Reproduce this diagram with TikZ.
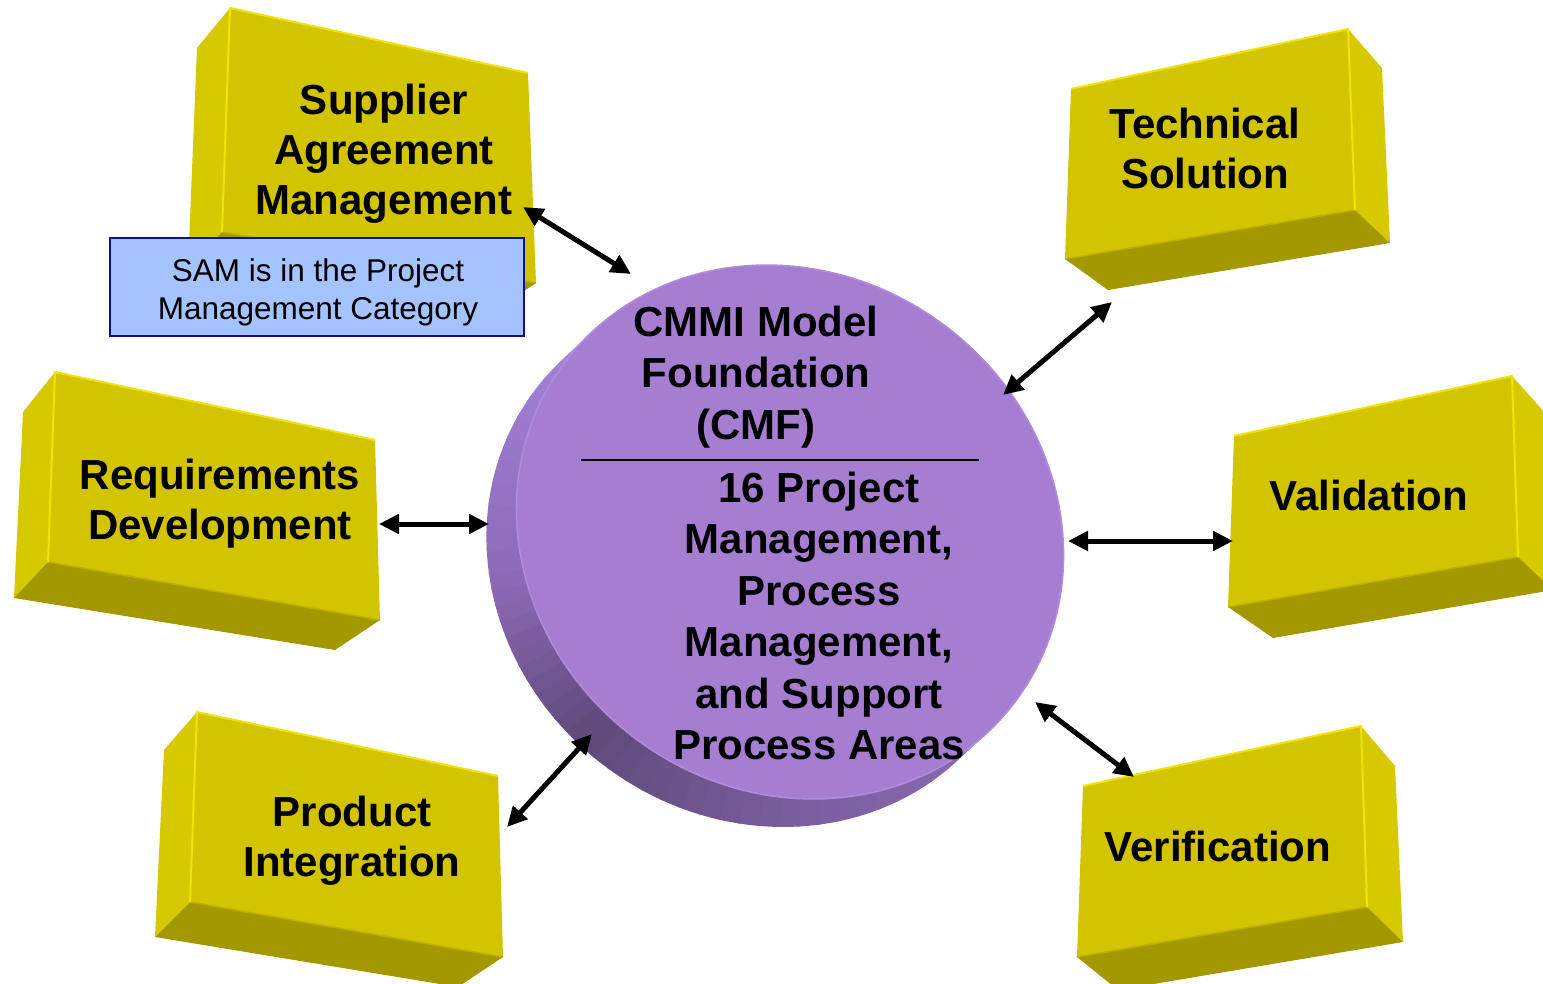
\documentclass[tikz,border=0pt]{standalone}
\usepackage{fontspec}
\setmainfont{Liberation Sans}
\usetikzlibrary{arrows.meta,calc}
\definecolor{yfront}{HTML}{D3C400}
\definecolor{yside}{HTML}{D7C900}
\definecolor{ybot}{HTML}{A49800}
\definecolor{yhi}{HTML}{F0E400}
\definecolor{yedge}{HTML}{BDB000}
\definecolor{discfront}{HTML}{A67ED1}
\definecolor{discrim}{HTML}{B08BE0}
\definecolor{sdA}{HTML}{8C6CB4}
\definecolor{sdB}{HTML}{7A5E9E}
\definecolor{sdC}{HTML}{5F4A7A}
\definecolor{sdD}{HTML}{8E6BB8}
\definecolor{sdE}{HTML}{A585DE}
\definecolor{sdF}{HTML}{A888E2}
\definecolor{notefill}{HTML}{A4C3FF}
\definecolor{noteline}{HTML}{10108A}
% left-facing block: A B C D (front), A' D' C' (back)
\newcommand\yblockL[7]{%
  \fill[yside] #1 -- #5 -- #6 -- #4 -- cycle;
  \fill[ybot] #4 -- #6 -- #7 -- #3 -- cycle;
  \fill[yfront] #1 -- #2 -- #3 -- #4 -- cycle;
  \draw[yedge, line width=1.5pt] #4 -- #3;
  \draw[yhi, line width=2pt, line join=round] #4 -- #1 -- #2;
}
% right-facing block: A B C D (front), B' C' D' (back)
\newcommand\yblockR[7]{%
  \fill[yside] #2 -- #5 -- #6 -- #3 -- cycle;
  \fill[ybot] #4 -- #7 -- #6 -- #3 -- cycle;
  \fill[yfront] #1 -- #2 -- #3 -- #4 -- cycle;
  \draw[yedge, line width=1.5pt] #4 -- #3;
  \draw[yhi, line width=2pt, line join=round] #1 -- #2 -- #3;
}
\tikzset{
  lbl/.style={font=\bfseries\fontsize{42}{50}\selectfont, align=center, inner sep=0pt},
  cmf/.style={font=\bfseries\fontsize{42}{51.4}\selectfont, align=center, inner sep=0pt},
  notebox/.style={draw=noteline, fill=notefill, line width=1.8pt, minimum width=414pt,
    minimum height=98pt, inner sep=0pt},
  notetext/.style={align=center, inner sep=0pt, font=\fontsize{31.5}{38}\selectfont},
  conn/.style={{Triangle[length=20pt,width=19pt]}-{Triangle[length=20pt,width=19pt]}, line width=5pt, black}
}
\begin{document}
\begin{tikzpicture}[x=1pt,y=-1pt]
\fill[white] (0,0) rectangle (1543,984);
\useasboundingbox (0,0) rectangle (1543,984);
\begin{scope}
\clip (0,0) rectangle (1543,984);
% blocks
\yblockL{(230,8)}{(528,73)}{(536,283)}{(222,232)}{(197,48)}{(188,268)}{(491,313)}
\yblockL{(55,372)}{(375,440)}{(380,620)}{(48,562)}{(23,412)}{(14,598)}{(335,650)}
\yblockL{(197,712)}{(498,776)}{(503,957)}{(190,902)}{(164,750)}{(155,937)}{(458,987)}
\yblockR{(1071,89)}{(1348,29)}{(1355,210)}{(1065,259)}{(1382,68)}{(1390,243)}{(1108,290)}
\yblockR{(1234,436)}{(1512,376)}{(1518,557)}{(1228,607)}{(1546,414)}{(1553,590)}{(1273,638)}
\yblockR{(1083,786)}{(1361,726)}{(1367,907)}{(1077,957)}{(1395,766)}{(1403,942)}{(1118,990)}
% disc
\begin{scope}[shift={(790,532)},rotate=-37]
  \begin{scope}
    \clip \foreach \k in {0,1,...,15}{ (-7.1*\k/15, 40.4*\k/15) ellipse [x radius=282pt, y radius=258pt] };
    \begin{scope}[rotate=37]
      \foreach \a/\b/\ca/\cb in {-20/40/sdA/sdA, 40/88/sdA/sdB, 88/135/sdB/sdC, 135/172/sdC/sdD, 172/225/sdD/sdE, 225/300/sdE/sdF}{
        \foreach \i in {0,...,11}{
          \pgfmathsetmacro\s{\a+(\b-\a)*\i/12}
          \pgfmathsetmacro\e{\a+(\b-\a)*(\i+1)/12+0.5}
          \pgfmathtruncatemacro\p{100*(\i+0.5)/12}
          \fill[fill=\cb!\p!\ca] (0,0) -- (\s:800) -- (\e:800) -- cycle;
        }
      }
    \end{scope}
  \end{scope}
  \fill[discfront] (0,0) ellipse [x radius=282pt, y radius=258pt];
  \draw[discrim, line width=1.5pt] (0,0) ellipse [x radius=282pt, y radius=258pt];
\end{scope}
\end{scope}
% labels
\node[lbl] (sam) at (384,154) {Supplier\\Agreement\\Management};
\node[lbl] (ts) at (1205,148) {Technical\\Solution};
\node[lbl] (rd) at (220,504) {Requirements\\Development};
\node[lbl] (val) at (1369,495) {Validation};
\node[lbl] (pi) at (352,841) {Product\\Integration};
\node[lbl] (ver) at (1218,846) {Verification};
\node[notebox] (samnote) at (317,287) {};
\node[notetext] (samtext) at (318,292) {SAM is in the Project\\Management Category};
\node[cmf] (cmftop) at (756,377) {CMMI Model\\Foundation\\(CMF)};
\node[cmf] (cmfbot) at (819,616) {16 Project\\Management,\\Process\\Management,\\and Support\\Process Areas};
\coordinate (divl) at (581,460);
\coordinate (divr) at (979,460);
\draw[black, line width=1.6pt] (divl) -- (divr);
% connector ends
\coordinate (e1a) at (523,207); \coordinate (e1b) at (631,274);
\coordinate (e2a) at (1112,302); \coordinate (e2b) at (1003,395);
\coordinate (e3a) at (379,524); \coordinate (e3b) at (489,524);
\coordinate (e4a) at (1068,541); \coordinate (e4b) at (1233,541);
\coordinate (e5a) at (507,827); \coordinate (e5b) at (592,734);
\coordinate (e6a) at (1035,702); \coordinate (e6b) at (1134,777);
\draw[conn] (e1a) -- (e1b);
\draw[conn] (e2a) -- (e2b);
\draw[conn] (e3a) -- (e3b);
\draw[conn] (e4a) -- (e4b);
\draw[conn] (e5a) -- (e5b);
\draw[conn] (e6a) -- (e6b);
\end{tikzpicture}
\end{document}
